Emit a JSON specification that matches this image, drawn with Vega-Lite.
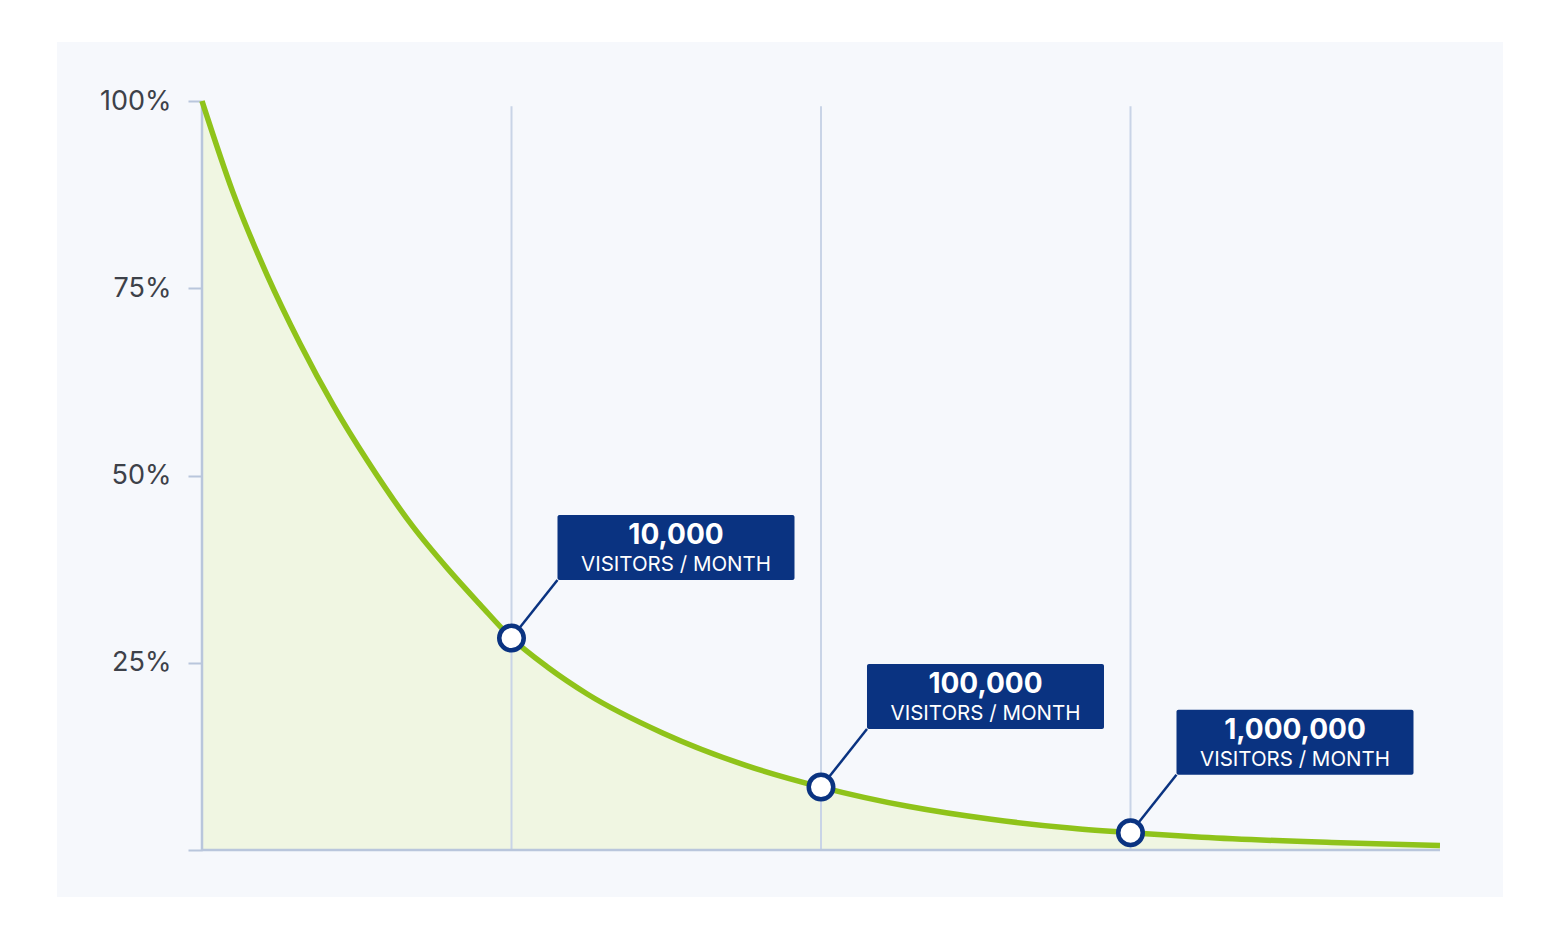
{
  "$schema": "https://vega.github.io/schema/vega-lite/v6.json",
  "width": 1446,
  "height": 855,
  "autosize": {"type": "none"},
  "padding": {"left": 57, "top": 42, "right": 57, "bottom": 42},
  "background": "#ffffff",
  "config": {
    "view": {"fill": "#f6f8fc", "stroke": null},
    "font": "Inter"
  },
  "datasets": {
    "curve": [
      {"x": 0, "pct": 100},
      {"x": 0.1, "pct": 87.8},
      {"x": 0.21, "pct": 76.8},
      {"x": 0.317, "pct": 67.6},
      {"x": 0.424, "pct": 59.4},
      {"x": 0.534, "pct": 52.0},
      {"x": 0.683, "pct": 43.1},
      {"x": 0.793, "pct": 37.6},
      {"x": 0.9, "pct": 32.7},
      {"x": 1.0, "pct": 28.3},
      {"x": 1.117, "pct": 24.4},
      {"x": 1.246, "pct": 20.8},
      {"x": 1.49, "pct": 15.6},
      {"x": 1.757, "pct": 11.3},
      {"x": 2.0, "pct": 8.4},
      {"x": 2.285, "pct": 5.8},
      {"x": 2.55, "pct": 4.1},
      {"x": 2.812, "pct": 2.9},
      {"x": 3.0, "pct": 2.3},
      {"x": 3.23, "pct": 1.7},
      {"x": 3.65, "pct": 1.0},
      {"x": 4.0, "pct": 0.6}
    ],
    "milestones": [
      {"x": 1, "pct": 28.3, "visitors": "10,000", "unit": "VISITORS / MONTH"},
      {"x": 2, "pct": 8.4, "visitors": "100,000", "unit": "VISITORS / MONTH"},
      {"x": 3, "pct": 2.3, "visitors": "1,000,000", "unit": "VISITORS / MONTH"}
    ],
    "grid": [
      {"x": 1, "top": 99.3, "bottom": 0},
      {"x": 2, "top": 99.3, "bottom": 0},
      {"x": 3, "top": 99.3, "bottom": 0}
    ],
    "axes": [
      {"x": 0, "x2": 0, "top": 100, "bottom": 0},
      {"x": 0, "x2": 4, "top": 0, "bottom": 0}
    ]
  },
  "layer": [
    {
      "data": {"name": "curve"},
      "mark": {"type": "area", "color": "#f0f6e2", "interpolate": "monotone"},
      "encoding": {
        "x": {"field": "x", "type": "quantitative", "scale": {"domain": [-0.4685, 4.2036], "nice": false, "zero": false}, "axis": null},
        "y": {
          "field": "pct",
          "type": "quantitative",
          "scale": {"domain": [-6.275, 107.88], "nice": false, "zero": false},
          "axis": {
            "values": [0, 25, 50, 75, 100],
            "labelExpr": "datum.value == 0 ? '' : datum.value + '%'",
            "offset": -145,
            "domain": false,
            "grid": false,
            "tickSize": 14,
            "tickWidth": 2,
            "tickColor": "#b9c6dc",
            "labelPadding": 17,
            "labelFontSize": 27,
            "labelFont": "Inter",
            "labelColor": "#3d4149",
            "title": null
          }
        }
      }
    },
    {
      "data": {"name": "grid"},
      "mark": {"type": "rule", "color": "#c9d4e7", "strokeWidth": 2},
      "encoding": {
        "x": {"field": "x", "type": "quantitative"},
        "y": {"field": "top", "type": "quantitative"},
        "y2": {"field": "bottom"}
      }
    },
    {
      "data": {"name": "axes"},
      "mark": {"type": "rule", "color": "#b9c6dc", "strokeWidth": 2.5},
      "encoding": {
        "x": {"field": "x", "type": "quantitative"},
        "x2": {"field": "x2"},
        "y": {"field": "top", "type": "quantitative"},
        "y2": {"field": "bottom"}
      }
    },
    {
      "data": {"name": "curve"},
      "mark": {"type": "line", "color": "#8fc31a", "strokeWidth": 5.5, "interpolate": "monotone"},
      "encoding": {
        "x": {"field": "x", "type": "quantitative"},
        "y": {"field": "pct", "type": "quantitative"}
      }
    },
    {
      "data": {"name": "milestones"},
      "mark": {"type": "rule", "color": "#0a3381", "strokeWidth": 2.5, "x2Offset": 46, "y2Offset": -58},
      "encoding": {
        "x": {"field": "x", "type": "quantitative"},
        "x2": {"field": "x"},
        "y": {"field": "pct", "type": "quantitative"},
        "y2": {"field": "pct"}
      }
    },
    {
      "data": {"name": "milestones"},
      "mark": {"type": "point", "shape": "circle", "filled": true, "fill": "#ffffff", "stroke": "#0a3381", "strokeWidth": 4.5, "size": 600, "opacity": 1},
      "encoding": {
        "x": {"field": "x", "type": "quantitative"},
        "y": {"field": "pct", "type": "quantitative"}
      }
    },
    {
      "data": {"name": "milestones"},
      "mark": {"type": "rect", "color": "#0a3381", "cornerRadius": 2, "xOffset": 46, "x2Offset": 283, "yOffset": -123, "y2Offset": -58},
      "encoding": {
        "x": {"field": "x", "type": "quantitative"},
        "x2": {"field": "x"},
        "y": {"field": "pct", "type": "quantitative"},
        "y2": {"field": "pct"}
      }
    },
    {
      "data": {"name": "milestones"},
      "mark": {"type": "text", "color": "#ffffff", "font": "Inter", "fontWeight": "bold", "fontSize": 28, "align": "center", "baseline": "middle", "xOffset": 164.5, "yOffset": -102},
      "encoding": {
        "x": {"field": "x", "type": "quantitative"},
        "y": {"field": "pct", "type": "quantitative"},
        "text": {"field": "visitors"}
      }
    },
    {
      "data": {"name": "milestones"},
      "mark": {"type": "text", "color": "#ffffff", "font": "Inter", "fontSize": 20.5, "align": "center", "baseline": "middle", "xOffset": 164.5, "yOffset": -73},
      "encoding": {
        "x": {"field": "x", "type": "quantitative"},
        "y": {"field": "pct", "type": "quantitative"},
        "text": {"field": "unit"}
      }
    }
  ]
}
